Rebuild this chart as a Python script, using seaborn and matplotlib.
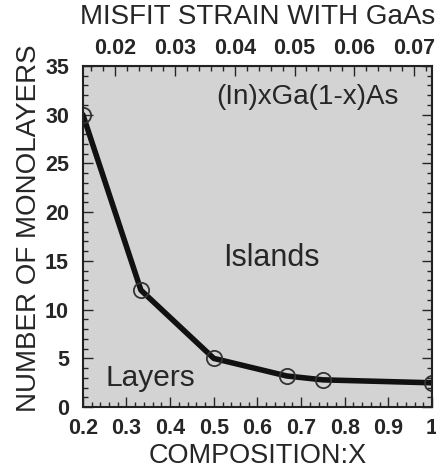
import matplotlib
matplotlib.use('Agg')
import matplotlib.pyplot as plt
from matplotlib.ticker import MultipleLocator
import seaborn as sns
import pandas as pd

# ── Data ─────────────────────────────────────────────────────────────────────
composition = [0.2, 0.333, 0.5, 0.667, 0.75, 1.0]
monolayers  = [30.0, 12.0, 5.0, 3.2, 2.8, 2.5]
strain_per_x = 0.073           # misfit strain of InxGa1-xAs on GaAs ~ 0.073*x

x_ticks      = [0.2, 0.3, 0.4, 0.5, 0.6, 0.7, 0.8, 0.9, 1.0]
x_ticklabels = ['0.2', '0.3', '0.4', '0.5', '0.6', '0.7', '0.8', '0.9', '1']
y_ticks      = [0, 5, 10, 15, 20, 25, 30, 35]
strain_ticks = [0.02, 0.03, 0.04, 0.05, 0.06, 0.07]

df = pd.DataFrame({'x': composition, 'n': monolayers})

sns.set_style('ticks')
plt.rcParams['font.family'] = ['Liberation Sans', 'DejaVu Sans']

fig = plt.figure(figsize=(4.36, 4.74), dpi=100)
ax = fig.add_axes([0.19, 0.141, 0.801, 0.72])
ax.set_facecolor('#d3d3d3')

sns.lineplot(data=df, x='x', y='n', ax=ax, color='#111111', lw=4,
             marker='o', markersize=11, markerfacecolor='none',
             markeredgecolor='#333333', markeredgewidth=1.3)

ax.set_xlim(0.2, 1.0)
ax.set_ylim(0, 35)
ax.set_xticks(x_ticks)
ax.set_xticklabels(x_ticklabels)
ax.set_yticks(y_ticks)
ax.xaxis.set_minor_locator(MultipleLocator(0.02))
ax.yaxis.set_minor_locator(MultipleLocator(1))
ax.tick_params(which='both', direction='in', top=False, right=True,
               width=1.0, labelsize=15.5)
ax.tick_params(axis='x', which='both', pad=8)
ax.tick_params(axis='y', which='both', pad=10)
ax.tick_params(which='major', length=7)
ax.tick_params(which='minor', length=3.5)
for lab in ax.get_xticklabels() + ax.get_yticklabels():
    lab.set_fontweight('bold')
for sp in ax.spines.values():
    sp.set_linewidth(1.5)
    sp.set_color('#222222')

ax.set_xlabel('COMPOSITION:X', fontsize=19.5, labelpad=3)
ax.set_ylabel('NUMBER OF MONOLAYERS', fontsize=20)
ax.yaxis.set_label_coords(-0.118, 0.525)

# top axis: misfit strain
top = ax.secondary_xaxis('top', functions=(lambda x: x * strain_per_x,
                                           lambda s: s / strain_per_x))
top.set_xticks(strain_ticks)
top.set_xticklabels([f'{s:.2f}' for s in strain_ticks])
top.xaxis.set_minor_locator(MultipleLocator(0.002))
top.tick_params(which='both', direction='in', width=1.0, labelsize=15.5, pad=5)
top.tick_params(which='major', length=7)
top.tick_params(which='minor', length=3.5)
for lab in top.get_xticklabels():
    lab.set_fontweight('bold')
top.set_xlabel('MISFIT STRAIN WITH GaAs', fontsize=20, labelpad=10)

ax.text(0.714, 31.8, '(In)xGa(1-x)As', fontsize=20, ha='center', va='center')
ax.text(0.633, 15.3, 'Islands', fontsize=22, ha='center', va='center')
ax.text(0.354, 3.0, 'Layers', fontsize=21.5, ha='center', va='center')

fig.savefig('out.png', dpi=100)
